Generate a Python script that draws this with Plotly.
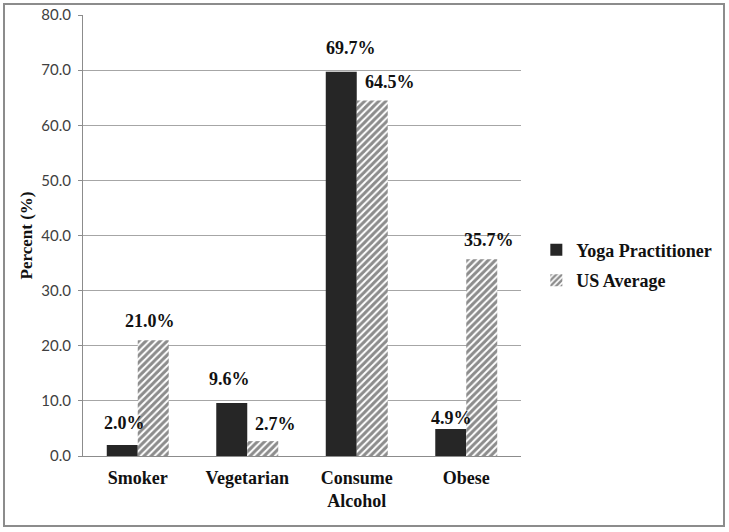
import plotly.graph_objects as go

categories = ["Smoker", "Vegetarian", "Consume<br>Alcohol", "Obese"]
yoga = [2.0, 9.6, 69.7, 4.9]
us_avg = [21.0, 2.7, 64.5, 35.7]
series_names = ["Yoga Practitioner", "US Average"]
y_ticks = [0, 10, 20, 30, 40, 50, 60, 70, 80]

SERIF = "Times New Roman"
SANS = "Lato"

BAR_GAP = 0.434
half = (1 - BAR_GAP) / 4.0

fig = go.Figure()
fig.add_trace(go.Bar(
    x=categories, y=yoga, name=series_names[0], legendgroup="a",
    marker=dict(color="#262626", line=dict(width=0)),
))
fig.add_trace(go.Bar(
    x=categories, y=us_avg, name=series_names[1], legendgroup="b",
    marker=dict(color="white", line=dict(width=0),
                pattern=dict(shape="/", fgcolor="#1a1a1a", bgcolor="white",
                             size=5, solidity=0.6)),
))

# label offsets (pixels): (xshift, yshift) relative to bar top/center
yoga_off = [(2, 22), (-2, 24), (10, 24), (1, 11)]
us_off = [(-3, 19), (13, 17), (18, 18), (7, 19)]

label_font = dict(family=SERIF, size=18, color="#111", weight="bold")
for i in range(len(categories)):
    fig.add_annotation(x=i - half, y=yoga[i], xref="x", yref="y",
                       text=f"{yoga[i]:.1f}%", showarrow=False, font=label_font,
                       xshift=yoga_off[i][0], yshift=yoga_off[i][1])
    fig.add_annotation(x=i + half, y=us_avg[i], xref="x", yref="y",
                       text=f"{us_avg[i]:.1f}%", showarrow=False, font=label_font,
                       xshift=us_off[i][0], yshift=us_off[i][1])

# outer border
fig.add_shape(type="rect", xref="paper", yref="paper",
              x0=(4 - 83) / 438, x1=(724 - 83) / 438,
              y0=(456 - 526) / 441, y1=(456 - 4) / 441,
              line=dict(color="#8c8c8c", width=2), fillcolor="rgba(0,0,0,0)", layer="below")

fig.update_layout(
    width=729, height=532,
    margin=dict(l=83, r=208, t=15, b=76, autoexpand=False),
    paper_bgcolor="white", plot_bgcolor="white",
    barmode="group", bargap=BAR_GAP, bargroupgap=0,
    showlegend=True,
    legend=dict(x=1.035, y=0.433, xanchor="left", yanchor="middle",
                font=dict(family=SERIF, size=18, color="#111", weight="bold"),
                tracegroupgap=4, itemwidth=30),
    xaxis=dict(type="category", showline=True, linecolor="#8c8c8c", linewidth=1,
               ticks="", showgrid=False, automargin=False,
               tickfont=dict(family=SERIF, size=18, color="#111", weight="bold"),
               ticklabelstandoff=5),
    yaxis=dict(range=[0, 80], tickvals=y_ticks,
               ticktext=[f"{v:.1f}" for v in y_ticks],
               showline=True, linecolor="#8c8c8c", linewidth=1,
               ticks="outside", ticklen=4, tickcolor="#8c8c8c",
               showgrid=True, gridcolor="#a6a6a6", gridwidth=1,
               zeroline=False, automargin=False,
               tickfont=dict(family=SANS, size=15, color="#404040"),
               ticklabelstandoff=4,
               title=dict(text="Percent (%)", standoff=4,
                          font=dict(family=SERIF, size=17, color="#111", weight="bold"))),
    font=dict(family=SERIF),
)

fig.write_html("out.html", config={"displayModeBar": False},
               post_script="document.body.style.margin='0';")
